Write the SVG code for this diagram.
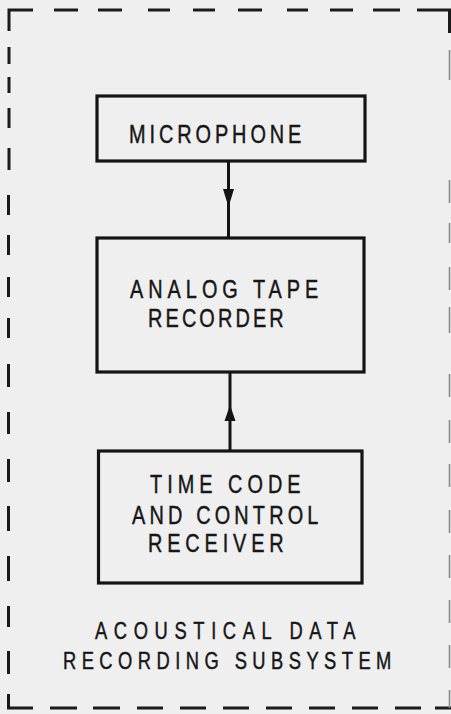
<svg xmlns="http://www.w3.org/2000/svg" width="451" height="714" viewBox="0 0 451 714">
<style>
.bg{fill:#efefef}
.box{fill:none;stroke:#141414;stroke-width:3.2}
.border{fill:none;stroke:#1a1a1a;stroke-width:3;stroke-linecap:butt}
.faint{fill:none;stroke:#8a8a8a;stroke-width:1.6}
.wire{fill:none;stroke:#141414;stroke-width:3}
.head{fill:#141414}
text{font-family:"Liberation Sans",Arial,sans-serif;font-size:25.5px;fill:#161616;stroke:#161616;stroke-width:0.45}
.cap{font-size:23.5px}
</style>
<rect class="bg" x="0" y="0" width="451" height="714"/>
<g id="boundary">
<path class="border" d="M9,31 V10 H33"/>
<path class="border" d="M54,10 H78 M98,10 H122 M148,10 H170 M193,10 H215 M238,10 H262 M287,10 H308 M330,10 H353 M373,10 H400 M417,10 H449.5 V33"/>
<path class="border" d="M9,47 V64 M9,77 V93 M9,108 V128 M9,148 V170 M8.5,195 V215 M8.5,235 V255 M8.5,277 V297 M8.5,318 V338 M8.5,364 V387 M8.5,412 V434 M8.5,459 V482 M8.5,506 V531 M8.5,556 V581 M8.5,606 V627 M8.5,651 V674 M8.5,694 V708 H33"/>
<path class="border" d="M50,708 H77 M93,708 H120 M137,708 H163 M180,708 H206 M223,708 H249 M266,708 H292 M309,708 H335 M352,708 H378 M395,708 H421 M435,708 H451"/>
<path class="faint" d="M449.5,50 V80 M449.5,180 V203 M449.5,223 V243 M449.5,267 V290 M449.5,307 V333 M449.5,374 V397 M449.5,420 V443 M449.5,464 V487 M449.5,510 V533 M449.5,555 V578 M449.5,600 V623 M449.5,645 V668 M449.5,690 V708"/>
</g>
<g id="connectors">
<line class="wire" x1="228.5" y1="161" x2="228.5" y2="238"/>
<polygon class="head" points="223,189 234,189 228.5,207"/>
<line class="wire" x1="230" y1="372" x2="230" y2="451"/>
<polygon class="head" points="224.5,421 235.5,421 230,405"/>
</g>
<g id="microphone">
<rect class="box" x="97" y="96" width="268" height="65"/>
<text transform="translate(129,143) scale(0.78,1)" textLength="221" lengthAdjust="spacing">MICROPHONE</text>
</g>
<g id="analog-tape-recorder">
<rect class="box" x="97" y="238" width="267" height="134"/>
<text transform="translate(130,298) scale(0.78,1)" textLength="241.5" lengthAdjust="spacing">ANALOG TAPE</text>
<text transform="translate(148,327) scale(0.78,1)" textLength="174" lengthAdjust="spacing">RECORDER</text>
</g>
<g id="time-code-receiver">
<rect class="box" x="98.5" y="451" width="263.5" height="132"/>
<text transform="translate(150,493) scale(0.78,1)" textLength="193" lengthAdjust="spacing">TIME CODE</text>
<text transform="translate(132,524) scale(0.78,1)" textLength="239" lengthAdjust="spacing">AND CONTROL</text>
<text transform="translate(148,552) scale(0.78,1)" textLength="174" lengthAdjust="spacing">RECEIVER</text>
</g>
<g id="subsystem-label">
<text class="cap" transform="translate(95,639) scale(0.78,1)" textLength="334" lengthAdjust="spacing">ACOUSTICAL DATA</text>
<text class="cap" transform="translate(63,669) scale(0.78,1)" textLength="421" lengthAdjust="spacing">RECORDING SUBSYSTEM</text>
</g>
</svg>
